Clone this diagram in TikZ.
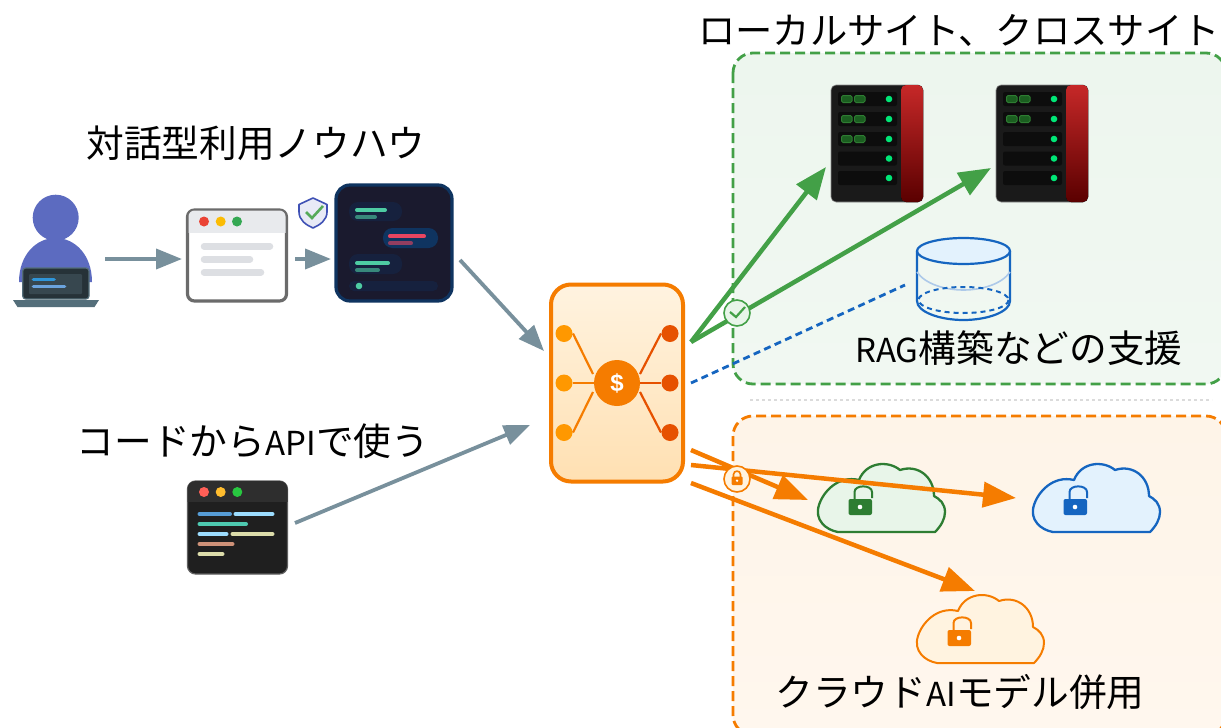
\documentclass[tikz,border=0pt]{standalone}
\usepackage{fontspec}
\setmainfont{Noto Sans CJK JP}
\newfontfamily\dollarfont{Liberation Sans}
\usetikzlibrary{arrows.meta,calc}
\definecolor{cgray}{HTML}{78909C}
\definecolor{cgreen}{HTML}{43A047}
\definecolor{corange}{HTML}{F57C00}
\definecolor{cblue}{HTML}{1565C0}
\definecolor{cdgreen}{HTML}{2E7D32}
\definecolor{cbar}{HTML}{DDDFE3}
\definecolor{ledgreen}{HTML}{00E676}
\definecolor{slotfill}{HTML}{1B5E20}
\definecolor{slotedge}{HTML}{2E7D32}
\definecolor{redtop}{HTML}{C62828}
\definecolor{redbot}{HTML}{5A0000}
\definecolor{rackbody}{HTML}{1A1A1A}
\definecolor{rackrow}{HTML}{0D0D0D}
\definecolor{cloudG}{HTML}{E8F5E9}
\definecolor{cloudB}{HTML}{E3F2FD}
\definecolor{cloudO}{HTML}{FFF3E0}
\newcommand{\lat}[1]{{\fontsize{33}{40}\selectfont #1}}
\tikzset{
  x=1pt,y=-1pt,
  label text/.style={inner sep=0pt,font=\fontsize{37.7}{40}\selectfont,text=black},
  anchorbox/.style={inner sep=0pt,outer sep=0pt},
  grayarrow/.style={draw=cgray,line width=3.8pt,-{Triangle[width=20pt,length=26pt]}},
  greenarrow/.style={draw=cgreen,line width=4.5pt,-{Triangle[width=25pt,length=32pt]}},
  orangearrow/.style={draw=corange,line width=4.5pt,-{Triangle[width=25pt,length=33pt]}},
  bluedash/.style={draw=cblue,line width=2.8pt,dash pattern=on 7pt off 4.5pt},
  rbar/.style={line cap=round},
  windot/.style={circle,inner sep=0pt,minimum size=10pt},
  hubdot/.style={circle,inner sep=0pt,minimum size=17pt},
}
\newcommand{\rowbar}[5]{\draw[rbar,draw=#4,line width=#5pt] (#1,#3) -- (#2,#3);}
\newcommand{\servericon}[3]{%
  \node[anchorbox,draw=black!45,line width=.6pt,fill=rackbody,rounded corners=5pt,minimum width=92pt,minimum height=117pt] (#1) at (#2,143.5) {};
  \begin{scope}[shift={(#2-877,0)}]
    \fill[top color=redtop,bottom color=redbot,rounded corners=5pt] (901,85) rectangle (923,202);
    \foreach \yy/\nn in {92/1,112/2,132/3,151.5/4,171/5}{
      \fill[rackrow,rounded corners=2pt] (838,\yy) rectangle (897,\yy+14);
      \fill[ledgreen] (889,\yy+7) circle (3.3pt);
      \ifnum\nn>#3\relax\else
        \fill[fill=slotfill,draw=slotedge,line width=1pt,rounded corners=1.5pt] (841.5,\yy+3.5) rectangle (852,\yy+10.5);
        \fill[fill=slotfill,draw=slotedge,line width=1pt,rounded corners=1.5pt] (854.5,\yy+3.5) rectangle (865,\yy+10.5);
      \fi
    }
  \end{scope}}
\newcommand{\cloudicon}[6]{%
  \node[anchorbox,minimum width=127pt,minimum height=69pt] (#1) at (#2+63.5,#3-34.5) {};
  \begin{scope}[shift={(#2,#3)}]
    \draw[draw=#4,fill=#5,line width=#6pt,line join=round] (20,0) -- (117,0) .. controls (123,-6) and (127,-13) .. (127,-20)
      .. controls (127,-28) and (122,-33) .. (116,-36)
      .. controls (116,-55) and (100,-68) .. (82,-62)
      .. controls (70,-72) and (48,-70) .. (41,-52)
      .. controls (20,-57) and (5,-40) .. (1,-27)
      .. controls (-4,-12) and (8,-2) .. (20,0) -- cycle;
    \draw[draw=#4,line width=2pt] (36.5,-33) -- (36.5,-40) .. controls (36.5,-47.5) and (54,-47.5) .. (54,-40) -- (54,-34);
    \fill[#4,rounded corners=2pt] (30.5,-33) rectangle (54,-17);
    \fill[white] (42,-25) circle (2.3pt);
  \end{scope}}
\begin{document}
\begin{tikzpicture}
\clip (0,0) rectangle (1221,728);
\fill[white] (0,0) rectangle (1221,728);
% panels
\draw[draw=cgreen,line width=2.8pt,dash pattern=on 10pt off 5pt,rounded corners=20pt,top color={rgb,255:red,237;green,246;blue,238},bottom color={rgb,255:red,241;green,248;blue,242}] (733,53) rectangle (1226,384);
\draw[draw=corange,line width=2.8pt,dash pattern=on 10pt off 5pt,rounded corners=20pt,top color={rgb,255:red,254;green,244;blue,232},bottom color={rgb,255:red,255;green,247;blue,238}] (733,416) rectangle (1226,735);
\draw[draw=black!14,line width=2pt,dash pattern=on 3pt off 3pt] (750,400) -- (1212,400);
% labels
\node[label text,font=\fontsize{37.3}{40}\selectfont] (titleA) at (959,30) {ローカルサイト、クロスサイト};
\node[label text] (titleB) at (256,143) {対話型利用ノウハウ};
\node[label text] (titleC) at (253,441) {コードから\lat{API}で使う};
\node[label text] (titleD) at (1019,348) {\lat{RAG}構築などの支援};
\node[label text] (titleE) at (960,692) {クラウド\lat{AI}モデル併用};
% user
\node[anchorbox,minimum width=86pt,minimum height=112pt] (user) at (56,251) {};
\fill[fill={rgb,255:red,92;green,107;blue,192}] (55.7,217.7) circle (23pt);
\fill[fill={rgb,255:red,92;green,107;blue,192}] (19,282) .. controls (19,255) and (36,238) .. (55.7,238) .. controls (75,238) and (92,255) .. (92,282) -- cycle;
\fill[fill={rgb,255:red,38;green,50;blue,56},draw={rgb,255:red,84;green,110;blue,122},line width=1.2pt,rounded corners=3pt] (22.7,268) rectangle (89,299);
\fill[fill={rgb,255:red,55;green,71;blue,79},rounded corners=1pt] (29,274) rectangle (82,294);
\rowbar{33.5}{54}{279.5}{cyan!70!blue!85!white}{3.8}
\rowbar{33.5}{64.5}{286.5}{cyan!60!blue!60!white}{3.8}
\fill[fill={rgb,255:red,84;green,110;blue,122}] (13,300) -- (99,300) -- (94.5,307) -- (17.5,307) -- cycle;
% browser
\node[anchorbox,draw=black!58,line width=3.2pt,fill=white,rounded corners=7pt,minimum width=99pt,minimum height=91pt] (browser) at (237,255.5) {};
\begin{scope}
\clip[rounded corners=6pt] (188.5,210.5) rectangle (285.5,300.5);
\fill[fill={rgb,255:red,232;green,234;blue,237}] (188,210) rectangle (286,232.5);
\end{scope}
\node[windot,fill={rgb,255:red,234;green,67;blue,53}] (bdotA) at (204,221.5) {};
\node[windot,fill={rgb,255:red,251;green,188;blue,4}] (bdotB) at (220.7,221.5) {};
\node[windot,fill={rgb,255:red,52;green,168;blue,83}] (bdotC) at (237,221.5) {};
\rowbar{204}{270}{246.3}{cbar}{6.5}
\rowbar{204}{250}{259.3}{cbar}{6.5}
\rowbar{204}{261}{272.3}{cbar}{6.5}
% shield
\draw[draw={rgb,255:red,63;green,81;blue,181},fill={rgb,255:red,232;green,234;blue,246},line width=1.6pt,line join=round] (313,198) -- (327,204.5) -- (327,212) .. controls (327,220) and (320,225) .. (313,228) .. controls (306,225) and (299,220) .. (299,212) -- (299,204.5) -- cycle;
\draw[draw=cgreen!90!white,line width=2.6pt] (306,212) -- (312,218) -- (323,206);
% chat
\node[anchorbox,draw={rgb,255:red,15;green,52;blue,96},line width=3.2pt,fill={rgb,255:red,26;green,26;blue,46},rounded corners=14pt,minimum width=116pt,minimum height=116pt] (chat) at (394,243) {};
\definecolor{cbub}{RGB}{22,33,62}
\definecolor{cmint}{RGB}{78,204,163}
\definecolor{cbubr}{RGB}{15,52,96}
\definecolor{cpink}{RGB}{233,69,96}
\fill[cbub,rounded corners=9pt] (349,202) rectangle (402,221);
\rowbar{357}{385}{210}{cmint}{4}
\rowbar{357}{375}{217}{cmint!60!cbub}{4}
\fill[cbubr,rounded corners=9.5pt] (383,228) rectangle (438,248);
\rowbar{390}{424}{236.3}{cpink}{4}
\rowbar{390}{411}{243.3}{cpink!60!cbubr}{4}
\fill[cbub,rounded corners=9pt] (349,254) rectangle (402,274);
\rowbar{357}{388}{263}{cmint}{4}
\rowbar{357}{378}{270}{cmint!60!cbub}{4}
\fill[cbub,rounded corners=5pt] (349,281) rectangle (438,291);
\fill[cmint] (359,286) circle (3.3pt);
% code
\node[anchorbox,draw=black!62,line width=1.2pt,fill=black!88,rounded corners=8pt,minimum width=100pt,minimum height=93pt] (code) at (237.5,527.5) {};
\begin{scope}
\clip[rounded corners=8pt] (187.5,481) rectangle (287.5,574);
\fill[black!82] (187,481) rectangle (288,502);
\end{scope}
\node[windot,fill={rgb,255:red,255;green,95;blue,87}] (cdotA) at (204,492) {};
\node[windot,fill={rgb,255:red,255;green,189;blue,46}] (cdotB) at (220.7,492) {};
\node[windot,fill={rgb,255:red,40;green,200;blue,64}] (cdotC) at (237.3,492) {};
\definecolor{csA}{RGB}{86,156,214}\definecolor{csB}{RGB}{156,220,254}\definecolor{csC}{RGB}{78,201,176}\definecolor{csD}{RGB}{220,220,170}\definecolor{csE}{RGB}{206,145,120}
\rowbar{199.5}{230}{514}{csA}{4}
\rowbar{235.5}{272.5}{514}{csB}{4}
\rowbar{199.5}{246}{524}{csC}{4}
\rowbar{199.5}{226.5}{534}{csB}{4}
\rowbar{232.5}{272.5}{534}{csD}{4}
\rowbar{199.5}{232.5}{544}{csE}{4}
\rowbar{199.5}{222.5}{554}{csD}{4}
% gateway
\node[anchorbox,draw=corange,line width=4pt,rounded corners=20pt,top color={rgb,255:red,255;green,243;blue,224},bottom color={rgb,255:red,255;green,224;blue,178},minimum width=132pt,minimum height=197pt] (gw) at (617,383) {};
\node[circle,inner sep=0pt,minimum size=46pt,fill=corange,text=white,font=\dollarfont\bfseries\fontsize{24}{24}\selectfont] (hub) at (617,383) {\$};
\node[hubdot,fill={rgb,255:red,255;green,152;blue,0}] (la) at (564,333.5) {};
\node[hubdot,fill={rgb,255:red,255;green,152;blue,0}] (lb) at (564,383) {};
\node[hubdot,fill={rgb,255:red,255;green,152;blue,0}] (lc) at (564,432.5) {};
\node[hubdot,fill={rgb,255:red,230;green,81;blue,0}] (ra) at (670,333.5) {};
\node[hubdot,fill={rgb,255:red,230;green,81;blue,0}] (rb) at (670,383) {};
\node[hubdot,fill={rgb,255:red,230;green,81;blue,0}] (rc) at (670,432.5) {};
\draw[corange,line width=2.2pt] ([shift={(9,0)}]la.center) -- ([shift={(-24,-9)}]hub.center);
\draw[corange,line width=2.2pt] (lb) -- (hub);
\draw[corange,line width=2.2pt] ([shift={(9,0)}]lc.center) -- ([shift={(-24,9)}]hub.center);
\draw[draw={rgb,255:red,230;green,81;blue,0},line width=2.2pt] ([shift={(-9,0)}]ra.center) -- ([shift={(23,-9)}]hub.center);
\draw[draw={rgb,255:red,230;green,81;blue,0},line width=2.2pt] (rb) -- (hub);
\draw[draw={rgb,255:red,230;green,81;blue,0},line width=2.2pt] ([shift={(-9,0)}]rc.center) -- ([shift={(23,9)}]hub.center);
% servers
\servericon{srvA}{877}{3}
\servericon{srvB}{1042}{2}
% database
\node[anchorbox,minimum width=94pt,minimum height=82pt] (db) at (963.5,285) {};
\draw[draw=cblue,line width=2.2pt] (917,251) -- (917,301) .. controls (917,312) and (940,320) .. (963.5,320) .. controls (987,320) and (1010,312) .. (1010,301) -- (1010,251);
\draw[draw=cblue!35!white,line width=1.6pt] (917,272) .. controls (925,284) and (945,290) .. (963.5,290) .. controls (982,290) and (1002,284) .. (1010,272);
\draw[draw=cblue,fill=cloudB,line width=2.2pt] (963.5,251) circle [x radius=46.5,y radius=13];
\draw[draw=cblue,line width=2pt,dash pattern=on 5pt off 4pt] (963.5,300) circle [x radius=45,y radius=13];
% clouds
\cloudicon{clG}{818}{532}{cdgreen}{cloudG}{2.3}
\cloudicon{clB}{1033}{532}{cblue}{cloudB}{2.3}
\cloudicon{clO}{917}{663}{corange}{cloudO}{2}
% connectors
\draw[grayarrow] ([shift={(49,8)}]user.center) -- ([shift={(-55,3.5)}]browser.center);
\draw[grayarrow] ([shift={(58,3.5)}]browser.center) -- ([shift={(-63,16)}]chat.center);
\draw[grayarrow] ([shift={(66,17)}]chat.center) -- ([shift={(-73,-32)}]gw.center);
\draw[grayarrow] ([shift={(57.5,-4.5)}]code.center) -- ([shift={(-87,42)}]gw.center);
\draw[greenarrow] ([shift={(74,-41)}]gw.center) -- ([shift={(-51,23.5)}]srvA.center);
\draw[greenarrow] ([shift={(74,-41)}]gw.center) -- ([shift={(-51,24.5)}]srvB.center);
\draw[bluedash] ([shift={(74,0)}]gw.center) -- ([shift={(-58.5,0)}]db.center);
\draw[orangearrow] ([shift={(74,67)}]gw.center) -- ([shift={(-73.5,2.5)}]clG.center);
\draw[orangearrow] ([shift={(74,82)}]gw.center) -- ([shift={(-80.5,0.5)}]clB.center);
\draw[orangearrow] ([shift={(74,100)}]gw.center) -- ([shift={(-5.5,-37.5)}]clO.center);
% badges
\node[circle,inner sep=0pt,minimum size=26pt,draw=cgreen,line width=1.6pt,fill=cloudG] (okbadge) at (737,313) {};
\draw[draw=cgreen,line width=2.2pt] (730,312) -- (736,317) -- (745,307);
\node[circle,inner sep=0pt,minimum size=26pt,draw=corange,line width=1.6pt,fill=cloudO] (lockbadge) at (737,479) {};
\draw[corange,line width=1.6pt] (733.5,477) -- (733.5,474.5) .. controls (733.5,470) and (740.5,470) .. (740.5,474.5) -- (740.5,477);
\fill[corange,rounded corners=1pt] (731.5,476.5) rectangle (742.5,485);
\fill[white] (737,480.7) circle (1.3pt);
\end{tikzpicture}
\end{document}
